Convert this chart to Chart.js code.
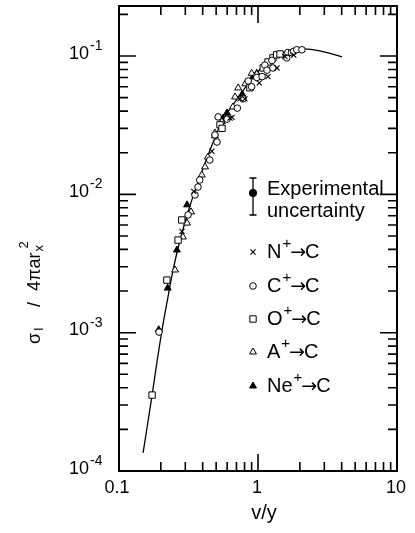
<!DOCTYPE html>
<html><head><meta charset="utf-8">
<script src="https://cdn.jsdelivr.net/npm/chart.js@4/dist/chart.umd.min.js"></script>
<style>html,body{margin:0;padding:0;background:#fff;}#wrap{width:415px;height:533px;}</style>
</head><body><div id="wrap"><canvas id="c" width="415" height="533"></canvas></div>
<script>
// ---- data ----
const xTickValues = [0.1, 1, 10];
const xTickLabels = ['0.1', '1', '10'];
const yTickValues = [1e-4, 1e-3, 1e-2, 1e-1];
const yTickExponents = ['-4', '-3', '-2', '-1'];

const curveX = [0.149, 0.173, 0.188, 0.207, 0.225, 0.245, 0.275, 0.314, 0.352, 0.452, 0.560, 0.742, 0.952, 1.22, 1.56, 2.07, 2.79, 4.02];
const curveY = [1.35e-4, 3.54e-4, 6.24e-4, 1.14e-3, 1.81e-3, 2.84e-3, 4.68e-3, 7.46e-3, 1.06e-2, 2.09e-2, 3.45e-2, 5.23e-2, 7.30e-2, 9.37e-2, 0.107, 0.1125, 0.109, 0.0985];

const nX = [0.284, 0.345, 0.466, 0.629, 0.65, 0.743, 0.805, 1.02, 1.18, 1.37, 1.56, 1.81];
const nY = [5.4e-3, 1.05e-2, 2.05e-2, 3.56e-2, 3.6e-2, 4.9e-2, 4.9e-2, 6.4e-2, 7.1e-2, 8.2e-2, 9.9e-2, 0.1015];

const cX = [0.194, 0.314, 0.352, 0.370, 0.381, 0.45, 0.49, 0.507, 0.516, 0.60, 0.71, 0.78, 0.85, 0.90, 0.98, 1.07, 1.12, 1.16, 1.26, 1.28, 1.61, 1.64, 1.74, 1.80, 1.90, 2.07];
const cY = [1.01e-3, 7.1e-3, 9.9e-3, 1.13e-2, 1.27e-2, 1.77e-2, 2.69e-2, 2.39e-2, 3.63e-2, 3.5e-2, 4.2e-2, 4.9e-2, 6.6e-2, 6.0e-2, 7.0e-2, 7.1e-2, 8.6e-2, 7.9e-2, 9.3e-2, 8.2e-2, 9.7e-2, 0.106, 0.106, 0.108, 0.111, 0.111];

const oX = [0.173, 0.221, 0.266, 0.283, 0.533, 0.551, 0.875, 1.09, 1.18, 1.28, 1.36, 1.44];
const oY = [3.54e-4, 2.4e-3, 4.67e-3, 6.53e-3, 3.18e-2, 3.0e-2, 5.9e-2, 8.2e-2, 9.06e-2, 9.7e-2, 0.102, 0.1035];

const aX = [0.253, 0.288, 0.309, 0.330, 0.394, 0.416, 0.436, 0.49, 0.55, 0.66, 0.684, 0.72, 0.81, 0.90, 0.98];
const aY = [2.84e-3, 4.92e-3, 6.2e-3, 7.47e-3, 1.38e-2, 1.58e-2, 1.86e-2, 2.78e-2, 3.35e-2, 4.28e-2, 5.06e-2, 5.88e-2, 6.3e-2, 7.5e-2, 7.4e-2];

const neX = [0.193, 0.224, 0.261, 0.309, 0.49, 0.56, 0.598, 0.77, 0.92, 0.98];
const neY = [1.05e-3, 2.1e-3, 3.96e-3, 8.4e-3, 2.65e-2, 3.56e-2, 3.88e-2, 5.3e-2, 7.07e-2, 7.5e-2];

const legendLabels = [['N', 'C'], ['C', 'C'], ['O', 'C'], ['A', 'C'], ['Ne', 'C']];

// ---- helpers ----
const pts = (xs, ys) => xs.map((x, i) => ({x: x, y: ys[i]}));
const FONT = '"Liberation Sans", Arial, sans-serif';
const styles = [
  {pointStyle: 'crossRot', radius: 3.6, bg: '#000', borderWidth: 1.1},
  {pointStyle: 'circle', radius: 3.3, bg: '#fff', borderWidth: 1},
  {pointStyle: 'rect', radius: 4.5, bg: '#fff', borderWidth: 1},
  {pointStyle: 'triangle', radius: 4.0, bg: '#fff', borderWidth: 1},
  {pointStyle: 'triangle', radius: 4.0, bg: '#000', borderWidth: 1}
];
const series = [pts(nX, nY), pts(cX, cY), pts(oX, oY), pts(aX, aY), pts(neX, neY)];

const datasets = [{
  type: 'line', data: pts(curveX, curveY), showLine: true, pointRadius: 0,
  borderColor: '#000', borderWidth: 1.3, tension: 0.35, order: 10
}];
series.forEach((d, i) => {
  const s = styles[i];
  datasets.push({
    data: d, pointStyle: s.pointStyle, pointRadius: s.radius, pointHoverRadius: s.radius,
    backgroundColor: s.bg, borderColor: '#000', borderWidth: s.borderWidth, order: 1
  });
});

const decorations = {
  id: 'decorations',
  afterDraw(chart) {
    const ctx = chart.ctx, ca = chart.chartArea;
    const xs = chart.scales.x, ys = chart.scales.y;
    ctx.save();
    ctx.strokeStyle = '#000'; ctx.fillStyle = '#000';
    ctx.lineWidth = 2;
    ctx.strokeRect(ca.left, ca.top, ca.right - ca.left, ca.bottom - ca.top);
    // x ticks
    const majL = 17, minL = 9;
    const xt = [];
    [0.1, 1].forEach(d => { for (let k = 1; k <= 9; k++) xt.push([d * k, k === 1]); });
    xt.push([10, true]);
    ctx.lineWidth = 1.6;
    xt.forEach(([v, maj]) => {
      const p = xs.getPixelForValue(v), L = maj ? majL : minL;
      if (v === 0.1 || v === 10) return;
      ctx.beginPath();
      ctx.moveTo(p, ca.bottom); ctx.lineTo(p, ca.bottom - L);
      ctx.moveTo(p, ca.top); ctx.lineTo(p, ca.top + L);
      ctx.stroke();
    });
    // y ticks
    const yt = [];
    [1e-4, 1e-3, 1e-2, 1e-1].forEach(d => { for (let k = 1; k <= 9; k++) if (d * k <= ys.max) yt.push([d * k, k === 1]); });
    yt.forEach(([v, maj]) => {
      const p = ys.getPixelForValue(v), L = maj ? majL : minL;
      if (v === 1e-4) return;
      ctx.beginPath();
      ctx.moveTo(ca.left, p); ctx.lineTo(ca.left + L, p);
      ctx.moveTo(ca.right, p); ctx.lineTo(ca.right - L, p);
      ctx.stroke();
    });
    // y tick labels
    ctx.textBaseline = 'alphabetic';
    yTickValues.forEach((v, i) => {
      const p = ys.getPixelForValue(v);
      ctx.font = '18px ' + FONT; ctx.textAlign = 'right';
      ctx.fillText('10', 89, p + 2.5);
      ctx.font = '14px ' + FONT; ctx.textAlign = 'left';
      ctx.fillText(yTickExponents[i], 90, p - 6);
    });
    // x tick labels
    ctx.font = '18px ' + FONT; ctx.textAlign = 'center';
    xTickValues.forEach((v, i) => {
      const p = xs.getPixelForValue(v);
      ctx.fillText(xTickLabels[i], p - (i === 0 ? 2 : 1), 493);
    });
    // x title
    ctx.font = '20px ' + FONT;
    ctx.fillText('v/y', 264, 519);
    // y title (rotated)
    ctx.save();
    ctx.translate(40, 285); ctx.rotate(-Math.PI / 2);
    ctx.textAlign = 'left';
    ctx.font = '18px ' + FONT; ctx.fillText('σ', -59, 0);
    ctx.font = '13px ' + FONT; ctx.fillText('I', -46, 3);
    ctx.font = '18px ' + FONT; ctx.fillText('/', -22, 0);
    ctx.fillText('4πar', -6, 0);
    const w = ctx.measureText('4πar').width;
    ctx.font = '13px ' + FONT; ctx.fillText('x', -6 + w + 1, 3);
    ctx.fillText('2', -6 + w + 4, -12);
    ctx.restore();
    // legend: experimental uncertainty
    const lx = 253;
    ctx.lineWidth = 1.3;
    ctx.beginPath();
    ctx.moveTo(lx, 178); ctx.lineTo(lx, 215);
    ctx.moveTo(lx - 3.5, 178); ctx.lineTo(lx + 3.5, 178);
    ctx.moveTo(lx - 3.5, 215); ctx.lineTo(lx + 3.5, 215);
    ctx.stroke();
    ctx.beginPath(); ctx.arc(lx, 193, 4, 0, Math.PI * 2); ctx.fill();
    ctx.font = '20px ' + FONT; ctx.textAlign = 'left';
    ctx.fillText('Experimental', 267, 195);
    ctx.fillText('uncertainty', 267, 217);
    // legend series rows
    const rowBase = [258, 292, 325, 358, 392];
    legendLabels.forEach((lab, i) => {
      const b = rowBase[i], s = styles[i];
      ctx.fillStyle = s.bg; ctx.strokeStyle = '#000'; ctx.lineWidth = s.borderWidth;
      Chart.helpers.drawPoint(ctx, {pointStyle: s.pointStyle, radius: s.radius, rotation: 0, borderWidth: s.borderWidth}, lx, b - 6);
      ctx.fillStyle = '#000';
      let x = 267;
      ctx.font = '20px ' + FONT; ctx.fillText(lab[0], x, b); x += ctx.measureText(lab[0]).width + 1;
      ctx.font = '15px ' + FONT; ctx.fillText('+', x, b - 10); x += ctx.measureText('+').width;
      ctx.font = '19px "DejaVu Sans", sans-serif'; ctx.fillText('→', x - 1, b - 0.5); x += ctx.measureText('→').width - 2;
      ctx.font = '20px ' + FONT; ctx.fillText(lab[1], x, b);
    });
    ctx.restore();
  }
};

new Chart(document.getElementById('c'), {
  type: 'scatter',
  data: {datasets: datasets},
  options: {
    responsive: false, animation: false, devicePixelRatio: 1,
    layout: {padding: {left: 119, right: 18, top: 6, bottom: 62}},
    plugins: {legend: {display: false}, tooltip: {enabled: false}},
    scales: {
      x: {type: 'logarithmic', min: 0.1, max: 10, display: false},
      y: {type: 'logarithmic', min: 1e-4, max: 0.23, display: false}
    }
  },
  plugins: [decorations]
});
</script></body></html>
